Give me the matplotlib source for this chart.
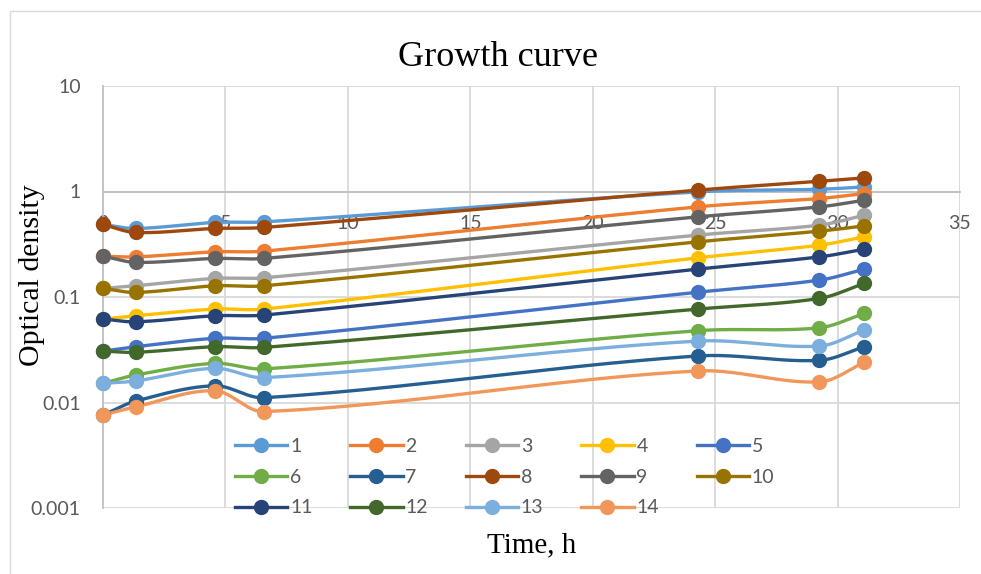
import numpy as np
import matplotlib
matplotlib.use("Agg")
import matplotlib.pyplot as plt
from matplotlib.lines import Line2D
from matplotlib.patches import Rectangle

# ---- data ----
time_h = [0, 1.33, 4.56, 6.58, 24.28, 29.26, 31.09]
series_names = [str(i) for i in range(1, 15)]
s1 = [0.487, 0.446, 0.509, 0.515, 0.991, 1.05, 1.105]
s2 = [0.244, 0.240, 0.268, 0.272, 0.715, 0.858, 0.957]
s3 = [0.1206, 0.1277, 0.150, 0.152, 0.386, 0.480, 0.596]
s4 = [0.0618, 0.0664, 0.0768, 0.0768, 0.235, 0.310, 0.372]
s5 = [0.0307, 0.0338, 0.0406, 0.0406, 0.111, 0.1445, 0.1837]
s6 = [0.0152, 0.0182, 0.0235, 0.0208, 0.0479, 0.0511, 0.0699]
s7 = [0.0076, 0.0103, 0.0144, 0.0111, 0.0276, 0.0251, 0.0338]
s8 = [0.487, 0.409, 0.446, 0.456, 1.03, 1.25, 1.345]
s9 = [0.244, 0.213, 0.232, 0.232, 0.575, 0.715, 0.827]
s10 = [0.1206, 0.1105, 0.1277, 0.1277, 0.333, 0.421, 0.472]
s11 = [0.0618, 0.0582, 0.0664, 0.0674, 0.1837, 0.240, 0.284]
s12 = [0.0307, 0.0299, 0.0338, 0.0333, 0.0768, 0.097, 0.1345]
s13 = [0.0152, 0.0160, 0.0211, 0.0172, 0.0382, 0.0343, 0.0486]
s14 = [0.0076, 0.0091, 0.0129, 0.0082, 0.0199, 0.0157, 0.0240]
series_values = [s1, s2, s3, s4, s5, s6, s7, s8, s9, s10, s11, s12, s13, s14]
x_ticks = [0, 5, 10, 15, 20, 25, 30, 35]
y_ticks = [0.001, 0.01, 0.1, 1, 10]
y_tick_labels = ["0.001", "0.01", "0.1", "1", "10"]

colors = ["#5B9BD5", "#ED7D31", "#A5A5A5", "#FFC000", "#4472C4", "#70AD47",
          "#255E91", "#9E480E", "#636363", "#997300", "#264478", "#43682B",
          "#7CAFDD", "#F1975A"]

W, H = 981, 574
left, right, top, bottom = 103, 960, 86, 508
PX_X = (right - left) / 35.0          # pixels per hour
PX_Y = (bottom - top) / 4.0           # pixels per decade


def smooth(xs, ys, n=40):
    """Smoothed line (Bezier through the points, tangents from neighbours),
    computed in screen-proportional (x, log y) space."""
    P = np.column_stack([np.asarray(xs, float) * PX_X,
                         np.log10(np.asarray(ys, float)) * PX_Y])
    m = len(P)
    tang = []
    for i in range(m):
        a = P[i - 1] if i > 0 else P[i]
        b = P[i + 1] if i + 1 < m else P[i]
        d = b - a
        tang.append(d / (np.linalg.norm(d) + 1e-12))
    out = [P[0]]
    t = np.linspace(0, 1, n)[1:, None]
    for i in range(m - 1):
        p1, p2 = P[i], P[i + 1]
        L = np.linalg.norm(p2 - p1) / 3.0
        c1 = p1 + tang[i] * L
        c2 = p2 - tang[i + 1] * L
        seg = ((1 - t) ** 3) * p1 + 3 * ((1 - t) ** 2) * t * c1 + 3 * (1 - t) * t ** 2 * c2 + t ** 3 * p2
        out.extend(seg)
    out = np.array(out)
    return out[:, 0] / PX_X, 10 ** (out[:, 1] / PX_Y)


fig = plt.figure(figsize=(W / 100, H / 100), dpi=100)
fig.patch.set_facecolor("white")

# outer chart border
fig.add_artist(Rectangle((10 / W, -0.1), 1.2, 1 - 11 / H + 0.1, transform=fig.transFigure,
                         fill=False, edgecolor="#D9D9D9", linewidth=1.0))

ax = fig.add_axes([left / W, 1 - bottom / H, (right - left) / W, (bottom - top) / H])
ax.set_yscale("log")
ax.set_xlim(0, 35)
ax.set_ylim(0.001, 10)

grid_c = "#D9D9D9"
for xv in x_ticks[1:]:
    ax.axvline(xv, color=grid_c, lw=1.3, zorder=0)
for yv in y_ticks:
    ax.axhline(yv, color=grid_c, lw=1.3, zorder=0)

for sp in ["top", "right"]:
    ax.spines[sp].set_visible(False)
ax.spines["left"].set_color("#BFBFBF")
ax.spines["left"].set_linewidth(1.3)
ax.spines["bottom"].set_position(("data", 1))
ax.spines["bottom"].set_color("#BFBFBF")
ax.spines["bottom"].set_linewidth(1.3)

tick_font = dict(family="Lato", size=14, color="#595959")
ax.set_xticks(x_ticks)
ax.set_xticklabels([str(v) for v in x_ticks], fontdict=tick_font)
ax.set_yticks(y_ticks)
ax.set_yticklabels(y_tick_labels, fontdict=tick_font)
ax.yaxis.set_minor_locator(matplotlib.ticker.NullLocator())
ax.tick_params(axis="x", length=0, pad=17)
ax.tick_params(axis="y", length=0, pad=16)

handles = []
for name, vals, c in zip(series_names, series_values, colors):
    sx, sy = smooth(time_h, vals)
    ax.plot(sx, sy, color=c, lw=2.4, solid_capstyle="round", zorder=3, clip_on=False)
    ax.plot(time_h, vals, "o", color=c, ms=10, mec=c, zorder=4, clip_on=False)
    handles.append(Line2D([], [], color=c, lw=2.4, marker="o", ms=10, label=name))

order = [0, 5, 10, 1, 6, 11, 2, 7, 12, 3, 8, 13, 4, 9]
leg = ax.legend([handles[i] for i in order], [series_names[i] for i in order],
                ncol=5, loc="lower left", bbox_to_anchor=((221 - left) / (right - left), -0.052),
                frameon=False, prop=dict(family="Lato", size=14), handlelength=2.7,
                handletextpad=0.15, columnspacing=1.93, labelspacing=0.71, borderpad=0.2)
for t in leg.get_texts():
    t.set_color("#595959")

fig.text(498.5 / W, 1 - 66 / H, "Growth curve", family="Liberation Serif", size=26,
         ha="center", va="baseline", color="black")
fig.text(532 / W, 1 - 545 / H, "Time, h", family="Liberation Serif", size=21,
         ha="center", va="center", color="black")
fig.text(32 / W, 1 - 275 / H, "Optical density", family="Liberation Serif", size=21.5,
         ha="center", va="center", rotation=90, color="black")

fig.savefig("out.png", dpi=100, facecolor="white")
